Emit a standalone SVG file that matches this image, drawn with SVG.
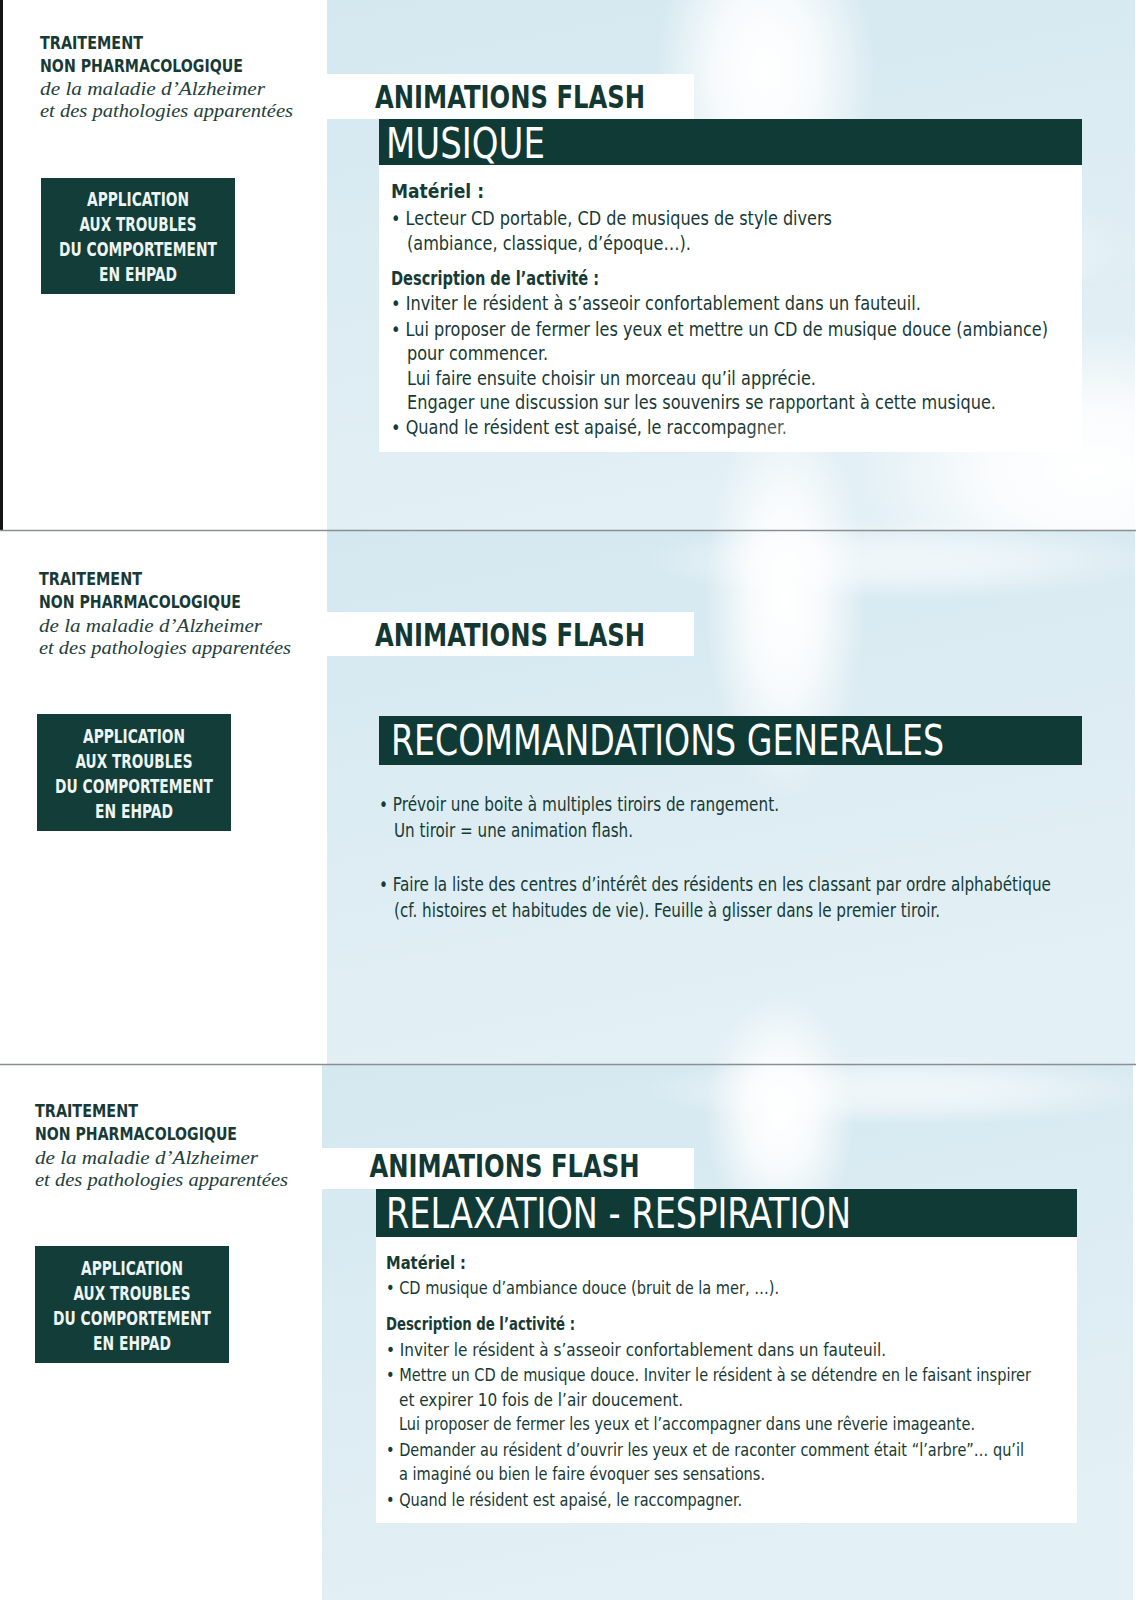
<svg xmlns="http://www.w3.org/2000/svg" width="1141" height="1600" viewBox="0 0 1141 1600">
<defs>
<linearGradient id="bg" x1="0" y1="0" x2="0.3" y2="1">
<stop offset="0" stop-color="#d4e8f0"/>
<stop offset="1" stop-color="#e3f0f5"/>
</linearGradient>
<radialGradient id="glow">
<stop offset="0" stop-color="#ffffff" stop-opacity="1"/>
<stop offset="0.45" stop-color="#ffffff" stop-opacity="0.8"/>
<stop offset="1" stop-color="#ffffff" stop-opacity="0"/>
</radialGradient>
<style>
.hd{font-family:"Liberation Sans Narrow","DejaVu Sans Condensed","Liberation Sans",sans-serif;font-weight:bold;fill:#183a36;font-size:18px}
.it{font-family:"Liberation Serif",serif;font-style:italic;fill:#24403c;font-size:19.5px}
.bx{font-family:"Liberation Sans Narrow","DejaVu Sans Condensed","Liberation Sans",sans-serif;font-weight:bold;fill:#eef4f2;font-size:20px;text-anchor:middle}
.af{font-family:"Liberation Sans Narrow","DejaVu Sans Condensed","Liberation Sans",sans-serif;font-weight:bold;fill:#133833;font-size:32px}
.tt{font-family:"Liberation Sans Narrow","DejaVu Sans Condensed","Liberation Sans",sans-serif;fill:#ffffff;font-size:43px}
.sb{font-family:"Liberation Sans Narrow","DejaVu Sans Condensed","Liberation Sans",sans-serif;font-weight:bold;fill:#163a35;font-size:20px}
.tx{font-family:"Liberation Sans Narrow","DejaVu Sans Condensed","Liberation Sans",sans-serif;fill:#163a35;font-size:19px}
.s3{font-size:18px}
.box{fill:#123d38}
.bar{fill:#103a35}
.sep{stroke:#8a8f92;stroke-width:1.5}
</style>
</defs>
<rect x="0" y="0" width="1141" height="1600" fill="#ffffff"/>

<g id="card1">
<rect x="0" y="0" width="3" height="530" fill="#151515"/>
<rect x="327" y="0" width="808" height="530" fill="url(#bg)"/>
<ellipse cx="765" cy="70" rx="110" ry="170" fill="url(#glow)"/>
<ellipse cx="1090" cy="470" rx="230" ry="140" fill="url(#glow)"/>
<ellipse cx="900" cy="250" rx="250" ry="60" fill="url(#glow)" opacity="0.5"/>
<g id="c1-header">
<text class="hd" x="40" y="49" textLength="103" lengthAdjust="spacingAndGlyphs">TRAITEMENT</text>
<text class="hd" x="40" y="71.5" textLength="203" lengthAdjust="spacingAndGlyphs">NON PHARMACOLOGIQUE</text>
<text class="it" x="40" y="95" textLength="225" lengthAdjust="spacingAndGlyphs">de la maladie d’Alzheimer</text>
<text class="it" x="40" y="117" textLength="253" lengthAdjust="spacingAndGlyphs">et des pathologies apparentées</text>
</g>
<g id="c1-box">
<rect class="box" x="41" y="178" width="194" height="116"/>
<text class="bx" x="138" y="206" textLength="102" lengthAdjust="spacingAndGlyphs">APPLICATION</text>
<text class="bx" x="138" y="231" textLength="117" lengthAdjust="spacingAndGlyphs">AUX TROUBLES</text>
<text class="bx" x="138" y="256" textLength="158" lengthAdjust="spacingAndGlyphs">DU COMPORTEMENT</text>
<text class="bx" x="138" y="281" textLength="78" lengthAdjust="spacingAndGlyphs">EN EHPAD</text>
</g>
<g id="c1-title">
<rect x="327" y="74" width="367" height="45" fill="#ffffff"/>
<text class="af" x="375" y="108" textLength="270" lengthAdjust="spacingAndGlyphs">ANIMATIONS FLASH</text>
<rect class="bar" x="379" y="119" width="703" height="46"/>
<text class="tt" x="386" y="158" textLength="159" lengthAdjust="spacingAndGlyphs">MUSIQUE</text>
</g>
<g id="c1-content">
<rect x="379" y="165" width="703" height="287" fill="#ffffff"/>
<text class="sb" x="391" y="198" textLength="93" lengthAdjust="spacingAndGlyphs">Matériel :</text>
<text class="tx" x="391" y="224.5" textLength="441" lengthAdjust="spacingAndGlyphs">• Lecteur CD portable, CD de musiques de style divers</text>
<text class="tx" x="407" y="250" textLength="284" lengthAdjust="spacingAndGlyphs">(ambiance, classique, d’époque…).</text>
<text class="sb" x="391" y="284.5" textLength="208" lengthAdjust="spacingAndGlyphs">Description de l’activité :</text>
<text class="tx" x="391" y="310" textLength="530" lengthAdjust="spacingAndGlyphs">• Inviter le résident à s’asseoir confortablement dans un fauteuil.</text>
<text class="tx" x="391" y="335.5" textLength="657" lengthAdjust="spacingAndGlyphs">• Lui proposer de fermer les yeux et mettre un CD de musique douce (ambiance)</text>
<text class="tx" x="407" y="360" textLength="141" lengthAdjust="spacingAndGlyphs">pour commencer.</text>
<text class="tx" x="407" y="384.5" textLength="409" lengthAdjust="spacingAndGlyphs">Lui faire ensuite choisir un morceau qu’il apprécie.</text>
<text class="tx" x="407" y="409" textLength="589" lengthAdjust="spacingAndGlyphs">Engager une discussion sur les souvenirs se rapportant à cette musique.</text>
<text class="tx" x="391" y="433.5" textLength="396" lengthAdjust="spacingAndGlyphs">• Quand le résident est apaisé, le raccompagner.</text>
</g>
</g>

<g id="card2">
<rect x="327" y="531" width="808" height="533" fill="url(#bg)"/>
<ellipse cx="785" cy="600" rx="80" ry="200" fill="url(#glow)"/>
<ellipse cx="900" cy="560" rx="260" ry="40" fill="url(#glow)" opacity="0.6"/>
<g id="c2-header">
<text class="hd" x="39" y="584.5" textLength="103" lengthAdjust="spacingAndGlyphs">TRAITEMENT</text>
<text class="hd" x="39" y="607.5" textLength="202" lengthAdjust="spacingAndGlyphs">NON PHARMACOLOGIQUE</text>
<text class="it" x="39" y="631.5" textLength="223" lengthAdjust="spacingAndGlyphs">de la maladie d’Alzheimer</text>
<text class="it" x="39" y="654" textLength="252" lengthAdjust="spacingAndGlyphs">et des pathologies apparentées</text>
</g>
<g id="c2-box">
<rect class="box" x="37" y="714" width="194" height="117"/>
<text class="bx" x="134" y="743" textLength="102" lengthAdjust="spacingAndGlyphs">APPLICATION</text>
<text class="bx" x="134" y="768" textLength="117" lengthAdjust="spacingAndGlyphs">AUX TROUBLES</text>
<text class="bx" x="134" y="793" textLength="158" lengthAdjust="spacingAndGlyphs">DU COMPORTEMENT</text>
<text class="bx" x="134" y="818" textLength="78" lengthAdjust="spacingAndGlyphs">EN EHPAD</text>
</g>
<g id="c2-title">
<rect x="327" y="612" width="367" height="44" fill="#ffffff"/>
<text class="af" x="375" y="646" textLength="270" lengthAdjust="spacingAndGlyphs">ANIMATIONS FLASH</text>
<rect class="bar" x="379" y="716" width="703" height="49"/>
<text class="tt" x="391" y="755" textLength="553" lengthAdjust="spacingAndGlyphs">RECOMMANDATIONS GENERALES</text>
</g>
<g id="c2-content">
<text class="tx" x="379" y="811" textLength="400" lengthAdjust="spacingAndGlyphs">• Prévoir une boite à multiples tiroirs de rangement.</text>
<text class="tx" x="394" y="837" textLength="239" lengthAdjust="spacingAndGlyphs">Un tiroir = une animation flash.</text>
<text class="tx" x="379" y="891" textLength="672" lengthAdjust="spacingAndGlyphs">• Faire la liste des centres d’intérêt des résidents en les classant par ordre alphabétique</text>
<text class="tx" x="394" y="916.5" textLength="546" lengthAdjust="spacingAndGlyphs">(cf. histoires et habitudes de vie). Feuille à glisser dans le premier tiroir.</text>
</g>
</g>

<g id="card3">
<rect x="322" y="1065" width="811" height="535" fill="url(#bg)"/>
<ellipse cx="780" cy="1115" rx="75" ry="120" fill="url(#glow)"/>
<ellipse cx="900" cy="1090" rx="260" ry="35" fill="url(#glow)" opacity="0.6"/>
<g id="c3-header">
<text class="hd" x="35" y="1116.5" textLength="103" lengthAdjust="spacingAndGlyphs">TRAITEMENT</text>
<text class="hd" x="35" y="1140" textLength="202" lengthAdjust="spacingAndGlyphs">NON PHARMACOLOGIQUE</text>
<text class="it" x="35" y="1163.5" textLength="223" lengthAdjust="spacingAndGlyphs">de la maladie d’Alzheimer</text>
<text class="it" x="35" y="1186" textLength="253" lengthAdjust="spacingAndGlyphs">et des pathologies apparentées</text>
</g>
<g id="c3-box">
<rect class="box" x="35" y="1246" width="194" height="117"/>
<text class="bx" x="132" y="1275" textLength="102" lengthAdjust="spacingAndGlyphs">APPLICATION</text>
<text class="bx" x="132" y="1300" textLength="117" lengthAdjust="spacingAndGlyphs">AUX TROUBLES</text>
<text class="bx" x="132" y="1325" textLength="158" lengthAdjust="spacingAndGlyphs">DU COMPORTEMENT</text>
<text class="bx" x="132" y="1350" textLength="78" lengthAdjust="spacingAndGlyphs">EN EHPAD</text>
</g>
<g id="c3-title">
<rect x="322" y="1148" width="372" height="41" fill="#ffffff"/>
<text class="af" x="369.5" y="1177" textLength="270" lengthAdjust="spacingAndGlyphs">ANIMATIONS FLASH</text>
<rect class="bar" x="376" y="1189" width="701" height="48"/>
<text class="tt" x="386" y="1228" textLength="465" lengthAdjust="spacingAndGlyphs">RELAXATION - RESPIRATION</text>
</g>
<g id="c3-content">
<rect x="376" y="1237" width="701" height="286" fill="#ffffff"/>
<text class="sb s3" x="386" y="1268.5" textLength="80" lengthAdjust="spacingAndGlyphs">Matériel :</text>
<text class="tx s3" x="386" y="1294" textLength="393" lengthAdjust="spacingAndGlyphs">• CD musique d’ambiance douce (bruit de la mer, …).</text>
<text class="sb s3" x="386" y="1330" textLength="189" lengthAdjust="spacingAndGlyphs">Description de l’activité :</text>
<text class="tx s3" x="386" y="1355.5" textLength="500" lengthAdjust="spacingAndGlyphs">• Inviter le résident à s’asseoir confortablement dans un fauteuil.</text>
<text class="tx s3" x="386" y="1381" textLength="645" lengthAdjust="spacingAndGlyphs">• Mettre un CD de musique douce. Inviter le résident à se détendre en le faisant inspirer</text>
<text class="tx s3" x="399" y="1405.5" textLength="284" lengthAdjust="spacingAndGlyphs">et expirer 10 fois de l’air doucement.</text>
<text class="tx s3" x="399" y="1430" textLength="576" lengthAdjust="spacingAndGlyphs">Lui proposer de fermer les yeux et l’accompagner dans une rêverie imageante.</text>
<text class="tx s3" x="386" y="1455.5" textLength="638" lengthAdjust="spacingAndGlyphs">• Demander au résident d’ouvrir les yeux et de raconter comment était “l’arbre”… qu’il</text>
<text class="tx s3" x="399" y="1480" textLength="366" lengthAdjust="spacingAndGlyphs">a imaginé ou bien le faire évoquer ses sensations.</text>
<text class="tx s3" x="386" y="1505.5" textLength="356" lengthAdjust="spacingAndGlyphs">• Quand le résident est apaisé, le raccompagner.</text>
</g>
</g>

<g id="separators">
<line class="sep" x1="0" y1="530.5" x2="1136" y2="530.5"/>
<line class="sep" x1="0" y1="1064.5" x2="1136" y2="1064.5"/>
</g>
</svg>
